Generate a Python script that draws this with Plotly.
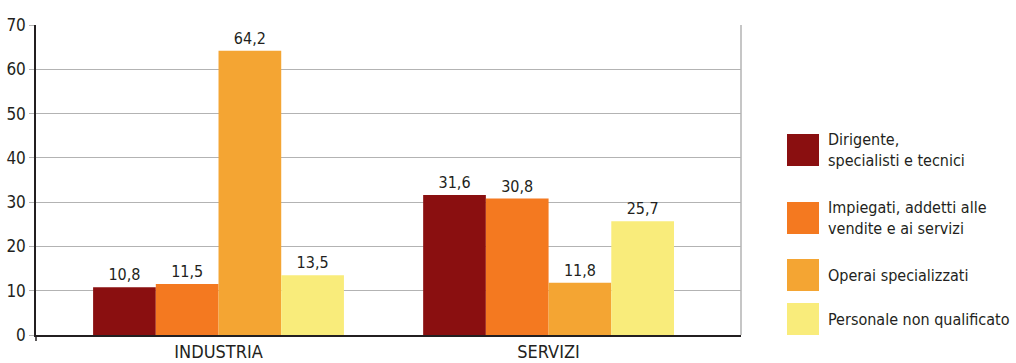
import plotly.graph_objects as go

categories = ["INDUSTRIA", "SERVIZI"]
series_names = [
    "Dirigente,<br>specialisti e tecnici",
    "Impiegati, addetti alle<br>vendite e ai servizi",
    "Operai specializzati",
    "Personale non qualificato",
]
series_values = [
    [10.8, 31.6],
    [11.5, 30.8],
    [64.2, 11.8],
    [13.5, 25.7],
]
colors = ["#8A0F10", "#F47920", "#F4A533", "#F9EC7B"]
y_ticks = [0, 10, 20, 30, 40, 50, 60, 70]

FONT = "Liberation Sans Narrow, DejaVu Sans Condensed, Roboto, sans-serif"
TXT = "#231F20"

# plot area in pixels
L, R, T, B = 36, 741, 25, 335
W, H = 1016, 363

fig = go.Figure()
for name, vals, col in zip(series_names, series_values, colors):
    fig.add_trace(go.Bar(
        x=categories, y=vals, name=name,
        marker=dict(color=col, line=dict(width=0)),
        text=[f"{v:.1f}".replace(".", ",") for v in vals],
        textposition="outside", cliponaxis=False,
        textfont=dict(family=FONT, size=16, color=TXT),
        showlegend=False,
    ))

def px(x):
    return (x - L) / (R - L)

def py(y):
    return (B - y) / (B - T)

shapes = [
    # right border of the plot frame
    dict(type="line", xref="paper", yref="paper", x0=1, x1=1, y0=0, y1=1,
         line=dict(color="#B3B3B3", width=1.5)),
    # small tick below the origin
    dict(type="line", xref="paper", yref="paper", x0=0, x1=0, y0=0, y1=py(341),
         line=dict(color="#231F20", width=1.5)),
]
annotations = []
# legend keys and labels
key_tops = [134, 202, 259, 303]
for name, col, top in zip(series_names, colors, key_tops):
    shapes.append(dict(type="rect", xref="paper", yref="paper",
                       x0=px(787), x1=px(819), y0=py(top + 32), y1=py(top),
                       fillcolor=col, line=dict(width=0)))
    annotations.append(dict(xref="paper", yref="paper", x=px(826), y=py(top + 16),
                            text=name, showarrow=False, xanchor="left", yanchor="middle",
                            align="left",
                            font=dict(family=FONT, size=16, color=TXT)))

fig.update_layout(
    width=W, height=H,
    margin=dict(l=L, r=W - R, t=T, b=H - B, pad=0),
    paper_bgcolor="white", plot_bgcolor="white",
    barmode="group", bargap=0.24, bargroupgap=0,
    shapes=shapes, annotations=annotations,
    font=dict(family=FONT, color=TXT),
    xaxis=dict(
        range=[-0.553, 1.583], automargin=False,
        showline=True, linecolor="#231F20", linewidth=1.5,
        ticks="", ticklabelstandoff=0,
        tickfont=dict(family=FONT, size=18, color=TXT),
        showgrid=False,
    ),
    yaxis=dict(
        range=[0, 70], tickvals=y_ticks, automargin=False,
        showline=True, linecolor="#231F20", linewidth=1.5,
        showgrid=True, gridcolor="#B3B3B3", gridwidth=1.2,
        ticks="outside", ticklen=5, tickcolor="#B3B3B3",
        tickfont=dict(family=FONT, size=17, color=TXT),
        zeroline=False,
    ),
)

fig.write_html("out.html")
